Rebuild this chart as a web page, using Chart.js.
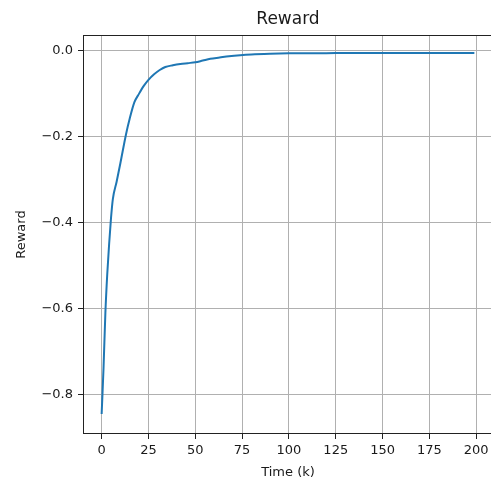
<!DOCTYPE html>
<html>
<head>
<meta charset="utf-8">
<title>Reward</title>
<script src="https://cdn.jsdelivr.net/npm/chart.js@4/dist/chart.umd.min.js"></script>
<style>
  html, body { margin: 0; padding: 0; background: #ffffff; overflow: hidden; }
  canvas { display: block; }
</style>
</head>
<body>
<canvas id="chart" width="495" height="480"></canvas>
<script>
// Training reward over time (time in thousands of steps)
const timeK = [0, 1, 2, 3, 4, 5, 6, 8, 10, 13, 15, 17.5, 20, 22.5, 25, 28, 31, 34, 38, 42, 46, 50, 54, 58, 63, 68, 74, 80, 90, 100, 125, 150, 175, 199];
const reward = [-0.846, -0.74, -0.61, -0.52, -0.45, -0.39, -0.345, -0.305, -0.262, -0.195, -0.158, -0.12, -0.1, -0.082, -0.068, -0.055, -0.045, -0.038, -0.034, -0.031, -0.029, -0.027, -0.023, -0.019, -0.016, -0.013, -0.0105, -0.0088, -0.0072, -0.0062, -0.0057, -0.0056, -0.0056, -0.0057];

const xTicks = [0, 25, 50, 75, 100, 125, 150, 175, 200];
const yTicks = [-0.8, -0.6, -0.4, -0.2, 0.0];

const chartTitle = 'Reward';
const xTitle = 'Time (k)';
const yTitle = 'Reward';

const FONT = "'DejaVu Sans', sans-serif";
const TEXT = '#1a1a1a';
const GRID = '#b0b0b0';
const SPINE = '#222222';

const points = timeK.map((t, i) => ({ x: t, y: reward[i] }));

// axes frame on all four sides, plus the title centred over the axes
const frame = {
  id: 'frame',
  afterDraw(chart) {
    const { ctx, chartArea: a } = chart;
    ctx.save();
    ctx.strokeStyle = SPINE;
    ctx.lineWidth = 1;
    ctx.strokeRect(Math.round(a.left) + 0.5, Math.round(a.top) + 0.5,
                   Math.round(a.right - a.left) - 1, Math.round(a.bottom - a.top) - 1);
    ctx.fillStyle = TEXT;
    ctx.font = "17px " + FONT;
    ctx.textAlign = 'center';
    ctx.textBaseline = 'middle';
    ctx.fillText(chartTitle, (a.left + a.right) / 2, 20);
    ctx.restore();
  }
};

const fmtY = v => Math.abs(v) < 1e-9 ? '0.0' : (v < 0 ? '\u2212' : '') + Math.abs(v).toFixed(1);

new Chart(document.getElementById('chart'), {
  type: 'line',
  data: {
    datasets: [{
      data: points,
      borderColor: '#1f77b4',
      borderWidth: 2,
      pointRadius: 0,
      fill: false,
      cubicInterpolationMode: 'monotone'
    }]
  },
  options: {
    responsive: false,
    animation: false,
    layout: { padding: { left: 0, right: 2, top: 35, bottom: 0 } },
    plugins: {
      legend: { display: false },
      tooltip: { enabled: false },
      title: { display: false }
    },
    scales: {
      x: {
        type: 'linear',
        min: -9.95,
        max: 208.95,
        afterFit(scale) { scale.height = 46; },
        afterBuildTicks(scale) { scale.ticks = xTicks.map(v => ({ value: v })); },
        ticks: {
          color: TEXT,
          font: { family: FONT, size: 13 },
          padding: 4,
          maxRotation: 0,
          autoSkip: false,
          callback: v => String(v)
        },
        grid: {
          color: GRID,
          lineWidth: 1,
          tickColor: SPINE,
          tickLength: 5
        },
        border: { display: false },
        title: {
          display: true,
          text: xTitle,
          color: TEXT,
          font: { family: FONT, size: 13 },
          padding: { top: 0, bottom: 0 }
        }
      },
      y: {
        type: 'linear',
        min: -0.8925,
        max: 0.0365,
        afterFit(scale) { scale.width = 83; },
        afterBuildTicks(scale) { scale.ticks = yTicks.map(v => ({ value: v })); },
        ticks: {
          color: TEXT,
          font: { family: FONT, size: 13 },
          padding: 5,
          autoSkip: false,
          callback: v => fmtY(v)
        },
        grid: {
          color: GRID,
          lineWidth: 1,
          tickColor: SPINE,
          tickLength: 5
        },
        border: { display: false },
        title: {
          display: true,
          text: yTitle,
          color: TEXT,
          font: { family: FONT, size: 13 },
          padding: { top: 14, bottom: 0 }
        }
      }
    }
  },
  plugins: [frame]
});
</script>
</body>
</html>
